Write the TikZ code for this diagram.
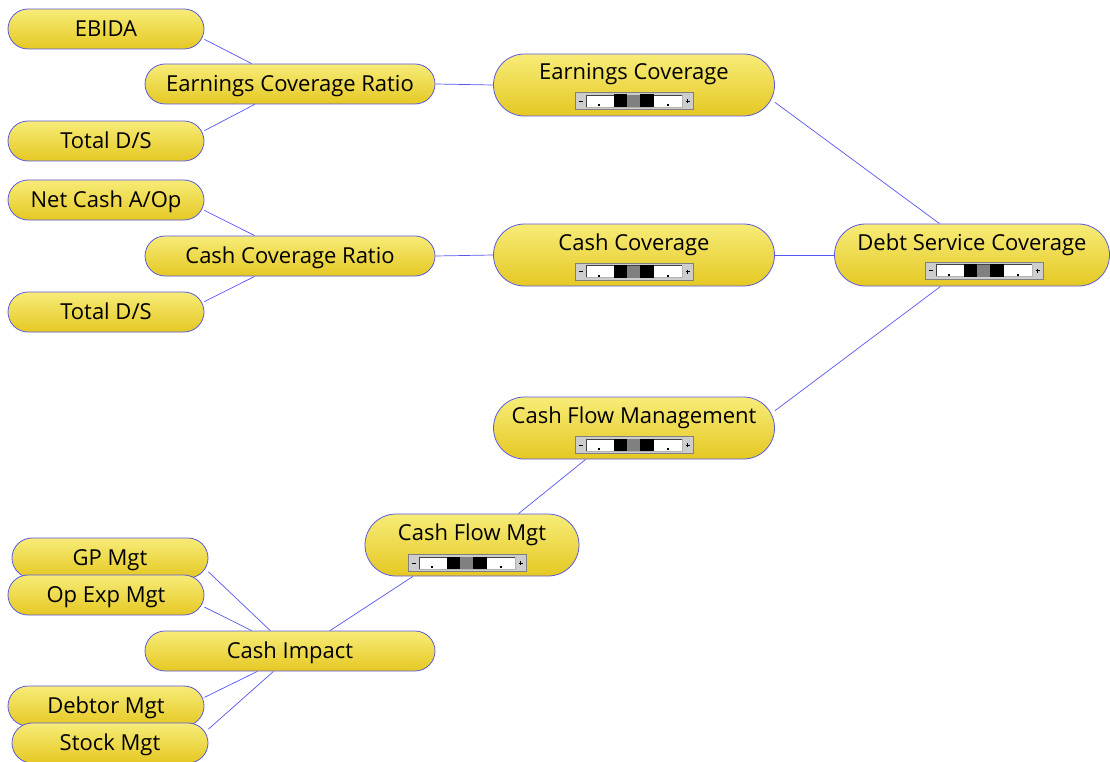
\documentclass[tikz,border=0pt]{standalone}
\usepackage{fontspec}
\setmainfont{Open Sans}
\usetikzlibrary{backgrounds}
\definecolor{linkblue}{RGB}{85,85,240}
\definecolor{boxedge}{RGB}{90,90,225}
\definecolor{boxtop}{RGB}{247,236,120}
\definecolor{boxbot}{RGB}{229,200,35}
\definecolor{gaugegray}{RGB}{205,205,205}
\begin{document}
\begin{tikzpicture}[x=1pt,y=-1pt,
    box/.style={draw=boxedge,line width=0.8pt,top color=boxtop,bottom color=boxbot,
        rounded corners=20pt,minimum width=196pt,minimum height=40pt,inner sep=0pt,
        font=\fontsize{22}{22}\selectfont,text height=15.5pt,text depth=0pt},
    ratio/.style={box,minimum width=290pt},
    gaugebox/.style={box,rounded corners=31pt,minimum width=281pt,minimum height=62pt,
        text height=15.5pt,text depth=25.5pt},
    link/.style={draw=linkblue,line width=0.7pt},
    pics/gauge/.style={code={
        \draw[fill=gaugegray,draw=gray] (-59,-8.5) rectangle (59,8.5);
        \fill[white] (-48,-6) rectangle (48,6);
        \draw[black!75] (-48,6) -- (-48,-6) -- (48,-6);
        \draw[gray!60] (-48,6) -- (48,6) -- (48,-6);
        \fill (-36,3) rectangle (-34.5,5);
        \fill (33,3) rectangle (34.5,5);
        \fill (-20.5,-6.5) rectangle (-7,6);
        \fill[gray] (-7,-6) rectangle (6,6);
        \fill (6,-6.5) rectangle (19.5,6);
        \draw[line width=0.9pt] (-55.5,0) -- (-51.5,0);
        \draw[line width=0.9pt] (51.5,0) -- (55.5,0) (53.5,-2) -- (53.5,2);
    }}]
    \useasboundingbox (0,0) rectangle (1110,762);
    \node[box] (ebida) at (106,29) {EBIDA};
    \node[ratio] (ecr) at (290,84) {Earnings Coverage Ratio};
    \node[box] (tds1) at (106,141) {Total D/S};
    \node[gaugebox] (ec) at (634,85) {Earnings Coverage};
    \node[box] (netcash) at (106,200) {Net Cash A/Op};
    \node[ratio] (ccr) at (290,256) {Cash Coverage Ratio};
    \node[box] (tds2) at (106,312) {Total D/S};
    \node[gaugebox] (cc) at (634,255) {Cash Coverage};
    \node[gaugebox,minimum width=275pt] (dsc) at (972,255) {Debt Service Coverage};
    \node[gaugebox] (cfm) at (634,428) {Cash Flow Management};
    \node[gaugebox,minimum width=214pt] (cfmgt) at (472,545) {Cash Flow Mgt};
    \node[box] (gp) at (110,558) {GP Mgt};
    \node[box] (opexp) at (106,595) {Op Exp Mgt};
    \node[ratio] (impact) at (290,651) {Cash Impact};
    \node[box] (debtor) at (106,706) {Debtor Mgt};
    \node[box] (stock) at (110,743) {Stock Mgt};
    \pic[yshift=-16pt] at (ec.center) {gauge};
    \pic[yshift=-16.5pt] at (cc.center) {gauge};
    \pic[yshift=-15.5pt,xshift=12pt] at (dsc.center) {gauge};
    \pic[yshift=-17pt] at (cfm.center) {gauge};
    \pic[yshift=-18pt,xshift=-5pt] at (cfmgt.center) {gauge};
    \begin{pgfonlayer}{background}
        \draw[link] (ebida.-6) -- (ecr.152);
        \draw[link] (tds1.6) -- (ecr.210);
        \draw[link] (ecr.east) -- (ec.west);
        \draw[link] (netcash.-6) -- (ccr.150);
        \draw[link] (tds2.6) -- (ccr.210);
        \draw[link] (ccr.east) -- (cc.west);
        \draw[link] (ec.-7) -- (dsc.136);
        \draw[link] (cc.east) -- (dsc.west);
        \draw[link] (dsc.225) -- (cfm.7);
        \draw[link] (cfm.213) -- (cfmgt.34);
        \draw[link] (cfmgt.208) -- (impact.27);
        \draw[link] (gp.-8) -- (impact.134);
        \draw[link] (opexp.-7) -- (impact.152);
        \draw[link] (debtor.5) -- (impact.212);
        \draw[link] (stock.8) -- (impact.231);
    \end{pgfonlayer}
\end{tikzpicture}
\end{document}
